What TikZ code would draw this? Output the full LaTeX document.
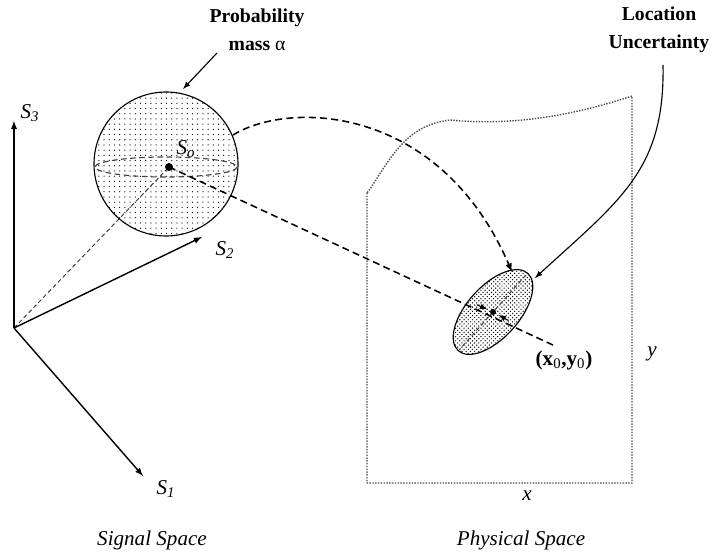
\documentclass[tikz,border=0pt]{standalone}
\usepackage{fontspec}
\setmainfont{Liberation Serif}
\usetikzlibrary{arrows}
\usetikzlibrary{patterns, patterns.meta, calc}

\tikzdeclarepattern{
 name=sparsedots,
 type=uncolored,
 bottom left={(-.6pt,-.6pt)},
 top right={(.6pt,.6pt)},
 tile size={(3.7pt,3.7pt)},
 code={\pgfpathcircle{\pgfpointorigin}{0.45pt}\pgfusepath{fill}}
}

\tikzset{
 axisline/.style={-latex, line width=1pt},
 bigdash/.style={line width=1.1pt, dash pattern=on 5pt off 3pt},
 thindash/.style={line width=0.7pt, dash pattern=on 3pt off 2pt, black!75},
 border/.style={line width=1pt, densely dotted, black!70},
 headlabel/.style={font=\fontsize{14}{20}\selectfont\bfseries, align=center},
 itlabel/.style={font=\fontsize{15}{18}\selectfont\itshape}
}

\begin{document}
\begin{tikzpicture}[x=0.025cm, y=-0.025cm]
 \useasboundingbox (0,0) rectangle (720,556);

 \coordinate (O) at (14,328);
 \coordinate (S1) at (143,476);
 \coordinate (S2) at (202,237);
 \coordinate (S3) at (14,121);
 \coordinate (C) at (166,164); % sphere
 \coordinate (S0) at (169,167);
 \coordinate (E) at (493,312); % location estimate
 \coordinate (Ea) at (526,275);
 \coordinate (Eb) at (460,349);
 \coordinate (Xend) at (555,346);
 \coordinate (Q1) at (233,135); %start of the mapping curve
 \coordinate (Q2) at (512,272);
 \coordinate (Pm) at (217,53);
 \coordinate (Pt) at (183,89);
 \coordinate (Lu) at (663,65);
 \coordinate (Lt) at (535,278);

 % physical space
 \draw[border] (367,193) -- (367,483) -- (632,483) -- (632,96)
   .. controls (560,120) and (500,125) .. (450,120)
   .. controls (410,125) and (395,150) .. (372,186) -- cycle;

 % signal space
 \draw[thindash] (O) -- (S0);
 \draw[axisline] (O) -- (S3);
 \draw[axisline] (O) -- (S2);
 \draw[axisline] (O) -- (S1);

 \draw[pattern=sparsedots, line width=0.8pt] (C) circle[radius=72];
 \draw[thindash, line width=0.8pt, dash pattern=on 4pt off 2.5pt] (166,167) ellipse[x radius=71, y radius=10];
 \fill (S0) circle[radius=4];

 \node[itlabel] at (30,113) {S\textsubscript{3}};
 \node[itlabel] at (225,250) {S\textsubscript{2}};
 \node[itlabel] at (166,489) {S\textsubscript{1}};
 \node[itlabel] at (186,149) {S\textsubscript{o}};

 % location uncertainty
 \draw[pattern=crosshatch dots, line width=0.8pt, rotate around={48:(E)}] (E) ellipse[x radius=52, y radius=26];
 \draw[thindash] (Ea) -- (Eb);
 \fill (E) circle[radius=3];

 \draw[bigdash] (S0) -- (Xend);
 \draw[-latex, line width=0.8pt, shorten >=4.5pt] ($(S0)!0.95!(E)$) -- (E);
 \draw[-latex, line width=0.8pt, shorten >=4.5pt] ($(Xend)!0.75!(E)$) -- (E);

 \draw[bigdash, -latex] (Q1) .. controls (290,100) and (440,105) .. (Q2);
 \draw[-latex, line width=0.8pt] (Lu) .. controls (665,170) and (620,200) .. (Lt);
 \draw[-latex, line width=0.8pt] (Pm) -- (Pt);

 % labels
 \node[headlabel] (prob) at (257,30) {Probability\\mass \textmd{α}};
 \node[headlabel] (loc) at (659,30) {Location\\Uncertainty};
 \node[font=\fontsize{15}{18}\selectfont] at (564,360) {\textbf{(x}\textsubscript{0}\textbf{,y}\textsubscript{0}\textbf{)}};
 \node[itlabel] at (527,496) {x};
 \node[itlabel] at (652,354) {y};
 \node[itlabel] at (152,540) {Signal Space};
 \node[itlabel] at (521,540) {Physical Space};
\end{tikzpicture}
\end{document}
